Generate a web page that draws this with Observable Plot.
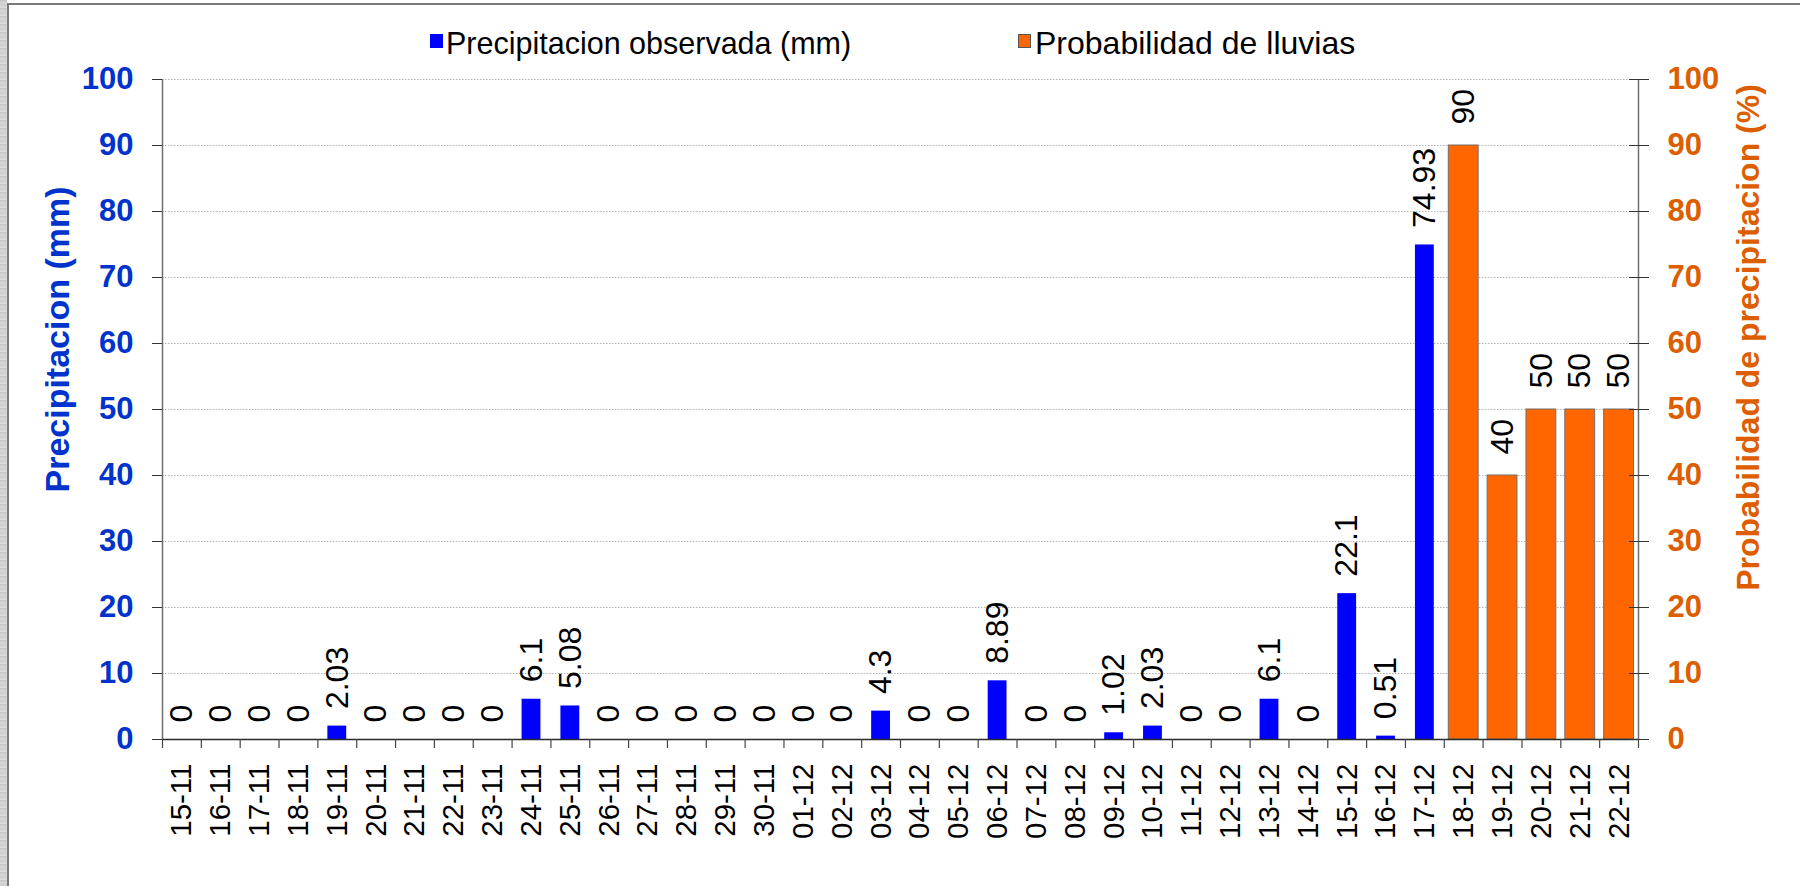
<!DOCTYPE html>
<html>
<head>
<meta charset="utf-8">
<script src="https://cdn.jsdelivr.net/npm/d3@7"></script>
<script src="https://cdn.jsdelivr.net/npm/@observablehq/plot@0.6"></script>
<style>
  html, body { margin: 0; padding: 0; width: 1800px; height: 886px; overflow: hidden; background: #ffffff; }
  #strip { position: absolute; left: 0; top: 0; width: 7px; height: 886px;
    background: repeating-linear-gradient(180deg, #c4c4c4 0px, #d8d8d8 3px, #cdcdcd 5px, #e0e0e0 8px); }
  #frame { position: absolute; left: 7px; top: 3px; width: 1793px; height: 883px; background: #fff;
    border-left: 2px solid #7a7a7a; border-top: 2px solid #7a7a7a; box-sizing: border-box; }
  #chart { position: absolute; left: 0; top: 0; }
  #legend { position: absolute; left: 0; top: 0; width: 1800px; height: 70px;
    font-family: "Liberation Sans", Arial, sans-serif; line-height: 1; color: #000; }
  .sw { position: absolute; width: 13px; height: 14px; box-sizing: border-box; }
  .lt { position: absolute; white-space: nowrap; }
</style>
</head>
<body>
<div id="strip"></div>
<div id="frame"></div>
<div id="chart"></div>
<div id="legend">
  <div class="sw" style="left:430px; top:34px; background:#0000ff;"></div>
  <div class="lt" id="lt1" style="left:446px; top:28px; font-size:30.5px;"></div>
  <div class="sw" style="left:1018px; top:34px; background:#ff6600; border:1px solid #555;"></div>
  <div class="lt" id="lt2" style="left:1035px; top:27px; font-size:32px;"></div>
</div>
<script>
// ---- data ----
const obsDates = ["15-11","16-11","17-11","18-11","19-11","20-11","21-11","22-11","23-11","24-11","25-11","26-11","27-11","28-11","29-11","30-11",
                  "01-12","02-12","03-12","04-12","05-12","06-12","07-12","08-12","09-12","10-12","11-12","12-12","13-12","14-12","15-12","16-12","17-12"];
const obsValues = [0,0,0,0,2.03,0,0,0,0,6.1,5.08,0,0,0,0,0,
                   0,0,4.3,0,0,8.89,0,0,1.02,2.03,0,0,6.1,0,22.1,0.51,74.93];
const fcstDates = ["18-12","19-12","20-12","21-12","22-12"];
const fcstValues = [90,40,50,50,50];
const yTicks = [0,10,20,30,40,50,60,70,80,90,100];
const seriesNames = ["Precipitacion observada (mm)", "Probabilidad de lluvias"];
const leftTitle = "Precipitacion (mm)";
const rightTitle = "Probabilidad de precipitacion (%)";

document.getElementById("lt1").textContent = seriesNames[0];
document.getElementById("lt2").textContent = seriesNames[1];

const obs = obsDates.map((d, i) => ({date: d, value: obsValues[i]}));
const fcst = fcstDates.map((d, i) => ({date: d, value: fcstValues[i]}));
const dates = obsDates.concat(fcstDates);
const first = dates[0], last = dates[dates.length - 1];

const W = 1800, H = 886, mL = 162, mR = 162, mT = 79, mB = 147;
const step = (W - mL - mR) / dates.length;
const blue = "#0033cc", orange = "#dc5e00";

const chart = Plot.plot({
  width: W, height: H,
  marginLeft: mL, marginRight: mR, marginTop: mT, marginBottom: mB,
  style: {fontFamily: "'Liberation Sans', Arial, sans-serif", background: "transparent", overflow: "visible"},
  x: {type: "band", domain: dates, padding: 0, round: false, label: null},
  y: {domain: [0, 100], label: null},
  marks: [
    Plot.gridY(yTicks, {stroke: "#b4b4b4", strokeOpacity: 1, strokeDasharray: "1.5,1.5", strokeWidth: 1}),
    Plot.barY(obs, {x: "date", y: "value", fill: "#0000ff", insetLeft: 10, insetRight: 10}),
    Plot.barY(fcst, {x: "date", y: "value", fill: "#ff6600", stroke: "#6e6e6e", strokeWidth: 1, insetLeft: 4.5, insetRight: 4.5}),
    Plot.text(obs, {x: "date", y: "value", text: d => String(d.value), rotate: -90, textAnchor: "start", dy: -17, fontSize: 32, fill: "#000"}),
    Plot.text(fcst, {x: "date", y: "value", text: d => String(d.value), rotate: -90, textAnchor: "start", dy: -21, fontSize: 32, fill: "#000"}),
    // axis lines
    Plot.ruleX([first], {dx: -step / 2, y1: 0, y2: 100, stroke: "#6e6e6e", strokeWidth: 1.5}),
    Plot.ruleX([last], {dx: step / 2, y1: 0, y2: 100, stroke: "#6e6e6e", strokeWidth: 1.5}),
    Plot.ruleY([0], {stroke: "#2a2a2a", strokeWidth: 1.5}),
    // category boundary ticks
    Plot.ruleX(dates, {x: d => d, dx: -step / 2, y1: 0, y2: 0, insetBottom: -9, stroke: "#444", strokeWidth: 1.2}),
    Plot.ruleX([last], {dx: step / 2, y1: 0, y2: 0, insetBottom: -9, stroke: "#444", strokeWidth: 1.2}),
    // axes
    Plot.axisX({tickSize: 0, tickRotate: -90, tickPadding: 24, fontSize: 29.5, fill: "#000", label: null}),
    Plot.axisY(yTicks, {anchor: "left", tickSize: 10, tickPadding: 19, fontSize: 31, fontWeight: "bold", fill: blue, stroke: "#333", label: null}),
    Plot.axisY(yTicks, {anchor: "right", tickSize: 10, tickPadding: 19, fontSize: 31, fontWeight: "bold", fill: orange, stroke: "#333", label: null}),
    Plot.axisY(yTicks, {anchor: "right", tickSize: -10, tickFormat: () => "", stroke: "#333", label: null}),
    // axis titles
    Plot.text([leftTitle], {frameAnchor: "left", textAnchor: "middle", rotate: -90, dx: -104, dy: -70, fontSize: 34, fontWeight: "bold", fill: blue}),
    Plot.text([rightTitle], {frameAnchor: "right", textAnchor: "middle", rotate: -90, dx: 110, dy: -72, fontSize: 32, fontWeight: "bold", fill: orange})
  ]
});
document.getElementById("chart").appendChild(chart);
</script>
</body>
</html>
